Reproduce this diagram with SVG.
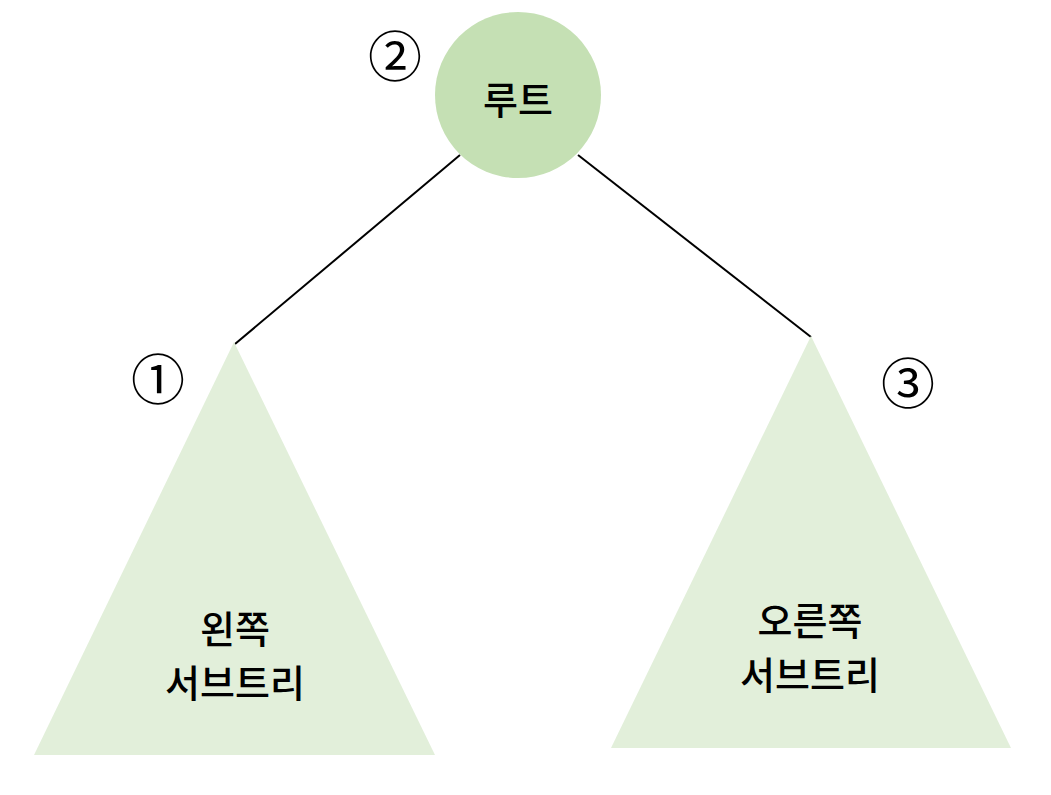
<svg xmlns="http://www.w3.org/2000/svg" width="1051" height="795" viewBox="0 0 1051 795">
<style>
.lbl{font-family:"Noto Sans CJK KR","Noto Sans",sans-serif;font-size:38px;font-weight:500;fill:#000;text-anchor:middle;dominant-baseline:central}
.num{font-family:"Noto Sans CJK KR","DejaVu Sans",sans-serif;font-size:54px;fill:#000;text-anchor:middle;dominant-baseline:central}
.edge{stroke:#000;stroke-width:2;fill:none}
</style>
<rect width="1051" height="795" fill="#fff"/>
<g id="connectors">
<line class="edge" x1="460" y1="155" x2="235" y2="344"/>
<line class="edge" x1="578" y1="155" x2="811" y2="337"/>
</g>
<g id="root">
<circle cx="518" cy="95" r="83" fill="#c5e0b4"/>
<text class="lbl" x="518" y="97">루트</text>
<text class="num" x="395" y="53">②</text>
</g>
<g id="left-subtree">
<polygon points="234,342 34,755 435,755" fill="#e2efda"/>
<text class="lbl" x="235" y="626">왼쪽</text>
<text class="lbl" x="235" y="680">서브트리</text>
<text class="num" x="158" y="376">①</text>
</g>
<g id="right-subtree">
<polygon points="811,336 611,748 1011,748" fill="#e2efda"/>
<text class="lbl" x="810" y="618">오른쪽</text>
<text class="lbl" x="810" y="672">서브트리</text>
<text class="num" x="908" y="380">③</text>
</g>
</svg>
